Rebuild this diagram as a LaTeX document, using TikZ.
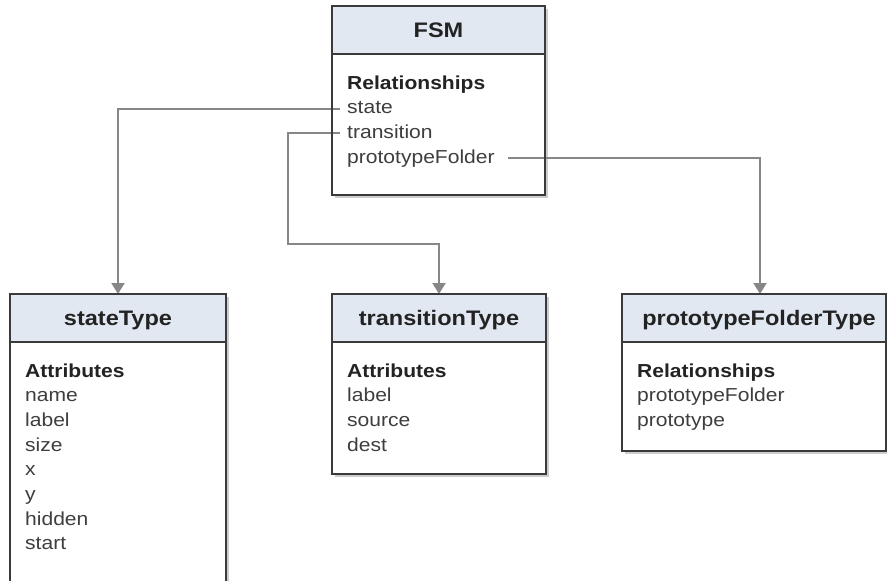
\documentclass[tikz,border=0pt]{standalone}
\usepackage{fontspec}
\setmainfont{Liberation Sans}[FakeStretch=1.12]
\usetikzlibrary{arrows.meta,backgrounds}

\definecolor{boxline}{RGB}{58,58,58}
\definecolor{headfill}{RGB}{225,232,241}
\definecolor{connline}{RGB}{135,135,135}
\definecolor{itemtext}{RGB}{62,62,62}
\definecolor{headtext}{RGB}{35,35,35}
\definecolor{shade}{RGB}{205,205,205}

\begin{document}
\begin{tikzpicture}[x=1pt,y=-1pt,
  classbox/.style={draw=boxline, line width=1.8pt, inner sep=0pt, outer sep=0pt, anchor=north west},
  headbox/.style={classbox, fill=headfill, minimum height=48pt},
  title/.style={anchor=base, inner sep=0pt, text=headtext, font=\fontsize{21}{25}\selectfont\bfseries},
  section/.style={anchor=base west, inner sep=0pt, text=headtext, font=\fontsize{18.8}{24.7}\selectfont\bfseries},
  item/.style={anchor=base west, inner sep=0pt, text=itemtext, font=\fontsize{18.8}{24.7}\selectfont},
  conn/.style={draw=connline, line width=2pt, -{Triangle[width=13pt,length=11pt]}},
  shadowline/.style={draw=shade, line width=2pt}]

\useasboundingbox (0,0) rectangle (887,581);
\clip (0,0) rectangle (887,581);

% ---- FSM ----
\node[classbox, minimum width=213pt, minimum height=189pt] (fsm) at (332,6) {};
\node[headbox, minimum width=213pt] (fsmh) at (332,6) {};
\node[title] (fsmt) at ([yshift=-31pt]fsmh.north) {FSM};
\node[section] (fsmR) at ([xshift=15pt,yshift=-35pt]fsmh.south west) {Relationships};
\node[item] (fsmS) at ([yshift=-24.7pt]fsmR.base west) {state};
\node[item] (fsmT) at ([yshift=-24.7pt]fsmS.base west) {transition};
\node[item] (fsmP) at ([yshift=-24.7pt]fsmT.base west) {prototypeFolder};

% ---- stateType ----
\node[classbox, minimum width=216pt, minimum height=320pt] (st) at (10,294) {};
\node[headbox, minimum width=216pt] (sth) at (10,294) {};
\node[title] at ([yshift=-31pt]sth.north) {stateType};
\node[section] (stA) at ([xshift=15pt,yshift=-35pt]sth.south west) {Attributes};
\foreach \t [count=\i] in {name,label,size,x,y,hidden,start}
  \node[item] (st\i) at ([yshift=-24.7*\i pt]stA.base west) {\t};

% ---- transitionType ----
\node[classbox, minimum width=214pt, minimum height=180pt] (tr) at (332,294) {};
\node[headbox, minimum width=214pt] (trh) at (332,294) {};
\node[title] at ([yshift=-31pt]trh.north) {transitionType};
\node[section] (trA) at ([xshift=15pt,yshift=-35pt]trh.south west) {Attributes};
\foreach \t [count=\i] in {label,source,dest}
  \node[item] (tr\i) at ([yshift=-24.7*\i pt]trA.base west) {\t};

% ---- prototypeFolderType ----
\node[classbox, minimum width=264pt, minimum height=157pt] (pt) at (622,294) {};
\node[headbox, minimum width=264pt] (pth) at (622,294) {};
\node[title] at ([xshift=137pt,yshift=-31pt]pth.north west) {prototypeFolderType};
\node[section] (ptR) at ([xshift=15pt,yshift=-35pt]pth.south west) {Relationships};
\node[item] (pt1) at ([yshift=-24.7pt]ptR.base west) {prototypeFolder};
\node[item] (pt2) at ([yshift=-24.7pt]pt1.base west) {prototype};

\coordinate (tbend) at (288,244);

\begin{scope}[on background layer]
  \fill[white] (0,0) rectangle (887,581);
  % soft shadows on the right and lower edges
  \foreach \b in {fsm,tr,pt,st}
    \draw[shadowline] ([xshift=2pt,yshift=-3pt]\b.north east) -- ([xshift=2pt,yshift=-2pt]\b.south east) -- ([xshift=3pt,yshift=-2pt]\b.south west);
  % associations
  \draw[conn] ([xshift=-7pt,yshift=5pt]fsmS.base west) -| (st.north);
  \draw[conn] ([xshift=-7pt,yshift=5pt]fsmT.base west) -| (tbend) -| (tr.north);
  \draw[conn] ([xshift=13pt,yshift=5pt]fsmP.base east) -| ([xshift=138pt]pt.north west);
\end{scope}
\end{tikzpicture}
\end{document}
